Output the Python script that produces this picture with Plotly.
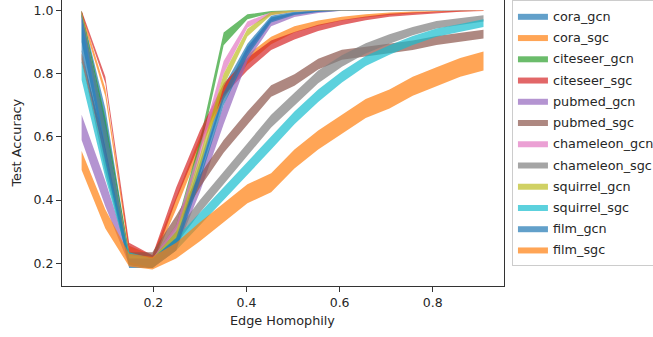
import numpy as np
import plotly.graph_objects as go

homophily = [0.046, 0.097, 0.148, 0.198, 0.249, 0.300, 0.351, 0.402, 0.453,
             0.503, 0.554, 0.605, 0.656, 0.707, 0.757, 0.808, 0.859, 0.909]

series_names = ["cora_gcn", "cora_sgc", "citeseer_gcn", "citeseer_sgc",
                "pubmed_gcn", "pubmed_sgc", "chameleon_gcn", "chameleon_sgc",
                "squirrel_gcn", "squirrel_sgc", "film_gcn", "film_sgc"]

cora_gcn_mean = [0.95, 0.62, 0.21, 0.20, 0.27, 0.50, 0.74, 0.88, 0.975, 0.993, 0.998, 1.0, 1.0, 1.0, 1.0, 1.0, 1.0, 1.0]
cora_gcn_std = [0.05, 0.07, 0.015, 0.015, 0.02, 0.02, 0.02, 0.015, 0.008, 0.004, 0.002, 0.001, 0.001, 0.001, 0.001, 0.001, 0.001, 0.001]

cora_sgc_mean = [0.99, 0.74, 0.24, 0.21, 0.39, 0.58, 0.74, 0.845, 0.905, 0.94, 0.96, 0.974, 0.983, 0.99, 0.994, 0.997, 0.999, 1.0]
cora_sgc_std = [0.008, 0.012, 0.015, 0.015, 0.02, 0.02, 0.02, 0.015, 0.012, 0.01, 0.008, 0.006, 0.005, 0.004, 0.003, 0.002, 0.001, 0.001]

citeseer_gcn_mean = [0.99, 0.63, 0.22, 0.20, 0.30, 0.57, 0.91, 0.98, 0.995, 1.0, 1.0, 1.0, 1.0, 1.0, 1.0, 1.0, 1.0, 1.0]
citeseer_gcn_std = [0.01, 0.03, 0.015, 0.015, 0.02, 0.02, 0.02, 0.008, 0.003, 0.001, 0.001, 0.001, 0.001, 0.001, 0.001, 0.001, 0.001, 0.001]

citeseer_sgc_mean = [0.995, 0.78, 0.25, 0.21, 0.42, 0.60, 0.75, 0.83, 0.89, 0.92, 0.945, 0.962, 0.975, 0.985, 0.99, 0.995, 0.998, 0.999]
citeseer_sgc_std = [0.005, 0.01, 0.015, 0.015, 0.02, 0.02, 0.02, 0.02, 0.015, 0.012, 0.01, 0.008, 0.006, 0.005, 0.004, 0.003, 0.002, 0.001]

pubmed_gcn_mean = [0.63, 0.42, 0.21, 0.20, 0.26, 0.45, 0.67, 0.86, 0.96, 0.985, 0.995, 1.0, 1.0, 1.0, 1.0, 1.0, 1.0, 1.0]
pubmed_gcn_std = [0.04, 0.04, 0.015, 0.015, 0.02, 0.025, 0.03, 0.02, 0.01, 0.006, 0.003, 0.001, 0.001, 0.001, 0.001, 0.001, 0.001, 0.001]

pubmed_sgc_mean = [0.85, 0.55, 0.22, 0.22, 0.33, 0.46, 0.57, 0.66, 0.745, 0.78, 0.83, 0.86, 0.87, 0.88, 0.89, 0.905, 0.915, 0.925]
pubmed_sgc_std = [0.015, 0.02, 0.015, 0.015, 0.02, 0.02, 0.02, 0.02, 0.018, 0.018, 0.017, 0.016, 0.015, 0.015, 0.015, 0.014, 0.014, 0.014]

chameleon_gcn_mean = [0.98, 0.60, 0.21, 0.20, 0.30, 0.55, 0.82, 0.955, 0.99, 0.998, 1.0, 1.0, 1.0, 1.0, 1.0, 1.0, 1.0, 1.0]
chameleon_gcn_std = [0.015, 0.03, 0.015, 0.015, 0.02, 0.02, 0.02, 0.01, 0.005, 0.002, 0.001, 0.001, 0.001, 0.001, 0.001, 0.001, 0.001, 0.001]

chameleon_sgc_mean = [0.86, 0.52, 0.21, 0.20, 0.28, 0.38, 0.47, 0.56, 0.65, 0.72, 0.79, 0.84, 0.88, 0.91, 0.935, 0.955, 0.965, 0.975]
chameleon_sgc_std = [0.015, 0.03, 0.015, 0.015, 0.02, 0.02, 0.02, 0.02, 0.02, 0.02, 0.02, 0.018, 0.016, 0.015, 0.013, 0.012, 0.011, 0.01]

squirrel_gcn_mean = [0.99, 0.60, 0.21, 0.20, 0.28, 0.52, 0.78, 0.93, 0.99, 0.998, 1.0, 1.0, 1.0, 1.0, 1.0, 1.0, 1.0, 1.0]
squirrel_gcn_std = [0.01, 0.03, 0.015, 0.015, 0.02, 0.02, 0.02, 0.012, 0.005, 0.002, 0.001, 0.001, 0.001, 0.001, 0.001, 0.001, 0.001, 0.001]

squirrel_sgc_mean = [0.81, 0.50, 0.22, 0.20, 0.26, 0.34, 0.42, 0.50, 0.58, 0.66, 0.73, 0.79, 0.84, 0.875, 0.905, 0.93, 0.945, 0.96]
squirrel_sgc_std = [0.03, 0.03, 0.015, 0.015, 0.02, 0.02, 0.02, 0.02, 0.02, 0.02, 0.02, 0.018, 0.016, 0.015, 0.014, 0.013, 0.012, 0.012]

film_gcn_mean = [0.93, 0.58, 0.20, 0.20, 0.26, 0.48, 0.72, 0.87, 0.97, 0.99, 0.997, 1.0, 1.0, 1.0, 1.0, 1.0, 1.0, 1.0]
film_gcn_std = [0.06, 0.06, 0.015, 0.015, 0.02, 0.02, 0.02, 0.015, 0.008, 0.004, 0.002, 0.001, 0.001, 0.001, 0.001, 0.001, 0.001, 0.001]

film_sgc_mean = [0.525, 0.34, 0.21, 0.20, 0.24, 0.30, 0.36, 0.42, 0.455, 0.53, 0.59, 0.64, 0.69, 0.72, 0.76, 0.79, 0.82, 0.84]
film_sgc_std = [0.03, 0.03, 0.02, 0.02, 0.025, 0.03, 0.03, 0.03, 0.03, 0.03, 0.03, 0.03, 0.03, 0.03, 0.03, 0.03, 0.03, 0.03]

means = [cora_gcn_mean, cora_sgc_mean, citeseer_gcn_mean, citeseer_sgc_mean,
         pubmed_gcn_mean, pubmed_sgc_mean, chameleon_gcn_mean, chameleon_sgc_mean,
         squirrel_gcn_mean, squirrel_sgc_mean, film_gcn_mean, film_sgc_mean]
stds = [cora_gcn_std, cora_sgc_std, citeseer_gcn_std, citeseer_sgc_std,
        pubmed_gcn_std, pubmed_sgc_std, chameleon_gcn_std, chameleon_sgc_std,
        squirrel_gcn_std, squirrel_sgc_std, film_gcn_std, film_sgc_std]

tab10 = [(31, 119, 180), (255, 127, 14), (44, 160, 44), (214, 39, 40),
         (148, 103, 189), (140, 86, 75), (227, 119, 194), (127, 127, 127),
         (188, 189, 34), (23, 190, 207)]

FONT = "DejaVu Sans"
fig = go.Figure()
x = np.array(homophily)
for i, name in enumerate(series_names):
    m = np.array(means[i])
    s = np.array(stds[i])
    upper = m + s
    lower = m - s
    r, g, b = tab10[i % 10]
    fig.add_trace(go.Scatter(
        x=np.concatenate([x, x[::-1]]),
        y=np.concatenate([upper, lower[::-1]]),
        fill="toself",
        fillcolor=f"rgba({r},{g},{b},0.7)",
        line=dict(width=0, color=f"rgba({r},{g},{b},0)"),
        mode="lines",
        name=name,
        legendgroup=name,
        hoverinfo="skip",
    ))

axis_common = dict(
    showgrid=False, zeroline=False, showline=True, linecolor="#333333", linewidth=1,
    ticks="outside", ticklen=5, tickwidth=1, tickcolor="#333333",
    tickfont=dict(family=FONT, size=12.5, color="#262626"),
)

fig.update_layout(
    width=653, height=337,
    margin=dict(l=62, r=149, t=0, b=51, autoexpand=False),
    paper_bgcolor="white", plot_bgcolor="white",
    font=dict(family=FONT, size=12.5, color="#262626"),
    xaxis=dict(range=[0.0039, 0.953], tickvals=[0.2, 0.4, 0.6, 0.8],
               ticktext=["0.2", "0.4", "0.6", "0.8"], **axis_common),
    yaxis=dict(range=[0.128, 1.0332], tickvals=[0.2, 0.4, 0.6, 0.8, 1.0],
               ticktext=["0.2", "0.4", "0.6", "0.8", "1.0"], mirror=True, **axis_common),
    showlegend=True,
    legend=dict(x=1.018, y=1.0, xanchor="left", yanchor="top",
                bordercolor="#cccccc", borderwidth=1, bgcolor="white",
                font=dict(family=FONT, size=12.8, color="#262626"),
                traceorder="grouped", tracegroupgap=1.6),
    annotations=[
        dict(text="Edge Homophily", xref="paper", yref="paper", x=0.499, y=-0.119,
             xanchor="center", yanchor="middle", showarrow=False,
             font=dict(family=FONT, size=12.8, color="#262626")),
        dict(text="Test Accuracy", xref="paper", yref="paper", x=-0.1018, y=0.498,
             xanchor="center", yanchor="middle", textangle=-90, showarrow=False,
             font=dict(family=FONT, size=12.8, color="#262626")),
    ],
)

fig.write_html("out.html")
